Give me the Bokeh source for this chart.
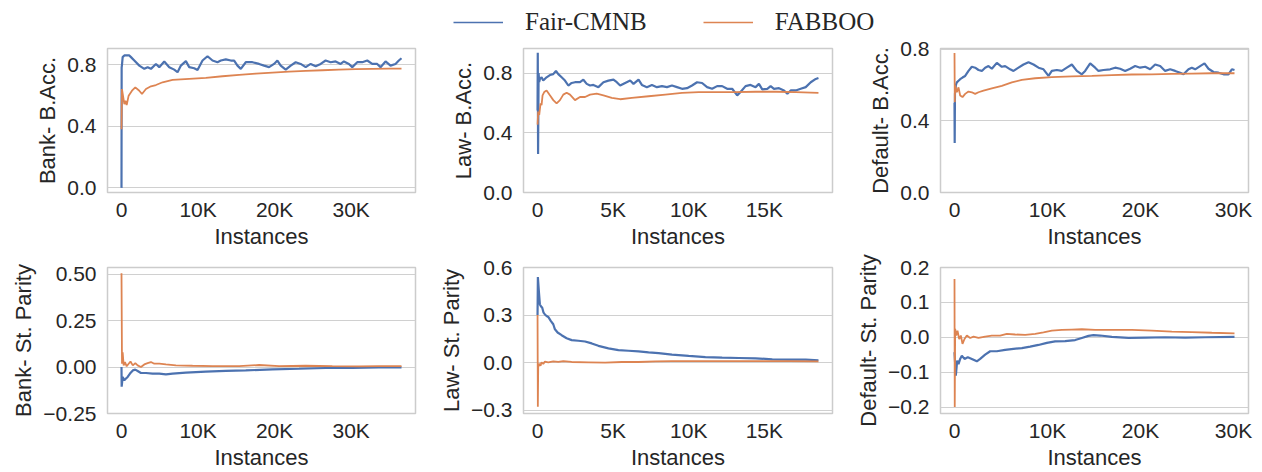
from bokeh.plotting import figure
from bokeh.layouts import column, row
from bokeh.models import Range1d, FixedTicker, CustomJSTickFormatter, Legend, LegendItem
from bokeh.embed import file_html
from bokeh.resources import INLINE

BLUE = "#4c72b0"
ORANGE = "#dd8452"
TXT = "#262626"
SANS = "Liberation Sans"
SERIF = "Liberation Serif"

series_names = ["Fair-CMNB", "FABBOO"]

# ---------------- Bank: balanced accuracy ----------------
bank_acc_x_cmnb = [0, 20, 65, 152, 370, 1021, 1239, 1673, 2325, 2977, 3412, 3846, 4498, 4933, 5585,
                   6237, 6888, 7323, 7758, 8410, 8844, 9496, 9931, 10583, 11235, 11887, 12539, 12974,
                   13626, 14278, 14712, 15147, 15582, 16234, 17103, 17972, 18624, 19275, 19927, 20362,
                   20796, 21448, 22100, 22752, 23404, 24056, 24708, 25359, 26011, 26663, 27315, 27967,
                   28619, 29053, 29705, 30140, 30792, 31444, 32096, 32748, 33399, 33834, 34486, 35138,
                   35790, 36224, 36572]
bank_acc_cmnb = [0.0, 0.78, 0.80, 0.848, 0.859, 0.859, 0.848, 0.826, 0.793, 0.772, 0.783, 0.772, 0.804,
                 0.783, 0.820, 0.783, 0.767, 0.750, 0.793, 0.822, 0.783, 0.776, 0.765, 0.826, 0.854,
                 0.826, 0.815, 0.826, 0.833, 0.826, 0.826, 0.793, 0.772, 0.815, 0.815, 0.804, 0.793,
                 0.783, 0.804, 0.826, 0.793, 0.767, 0.793, 0.815, 0.804, 0.783, 0.804, 0.789, 0.804,
                 0.826, 0.815, 0.820, 0.804, 0.820, 0.804, 0.783, 0.815, 0.815, 0.826, 0.804, 0.804,
                 0.783, 0.820, 0.793, 0.804, 0.826, 0.841]
bank_acc_x_fabboo = [0, 60, 370, 500, 674, 934, 1369, 1804, 2325, 2673, 3194, 3846, 4498, 5367, 6671,
                     8844, 11017, 13190, 15365, 17538, 19710, 21883, 24056, 26229, 28402, 30575, 32748,
                     34921, 36572]
bank_acc_fabboo = [0.38, 0.641, 0.543, 0.565, 0.537, 0.598, 0.630, 0.652, 0.630, 0.609, 0.641, 0.659,
                   0.667, 0.685, 0.700, 0.707, 0.713, 0.724, 0.733, 0.741, 0.748, 0.754, 0.759, 0.763,
                   0.767, 0.770, 0.772, 0.774, 0.774]

# ---------------- Law: balanced accuracy ----------------
law_acc_x_cmnb = [0, 15, 35, 70, 110, 155, 265, 376, 597, 818, 1040, 1217, 1371, 1593, 1814, 2035, 2256,
                  2477, 2809, 3030, 3252, 3473, 3694, 4026, 4358, 4689, 5021, 5242, 5464, 5795, 6127,
                  6348, 6680, 6901, 7233, 7565, 7897, 8229, 8560, 8892, 9224, 9556, 9888, 10219, 10551,
                  10883, 11215, 11547, 11878, 12210, 12542, 12874, 13206, 13427, 13759, 14090, 14422,
                  14643, 14865, 15196, 15418, 15639, 15971, 16302, 16524, 16745, 17077, 17409, 17741,
                  18072, 18404, 18581]
law_acc_cmnb = [0.55, 0.936, 0.258, 0.80, 0.74, 0.761, 0.772, 0.750, 0.772, 0.787, 0.793, 0.815, 0.793,
                0.772, 0.750, 0.717, 0.734, 0.739, 0.739, 0.756, 0.728, 0.717, 0.721, 0.706, 0.739,
                0.750, 0.756, 0.739, 0.717, 0.734, 0.750, 0.728, 0.756, 0.721, 0.706, 0.721, 0.706,
                0.713, 0.706, 0.717, 0.706, 0.695, 0.699, 0.717, 0.739, 0.734, 0.706, 0.695, 0.713,
                0.713, 0.695, 0.695, 0.651, 0.673, 0.713, 0.721, 0.706, 0.728, 0.691, 0.695, 0.713,
                0.695, 0.699, 0.684, 0.662, 0.684, 0.684, 0.695, 0.706, 0.739, 0.761, 0.767]
law_acc_x_fabboo = [0, 44, 111, 199, 265, 332, 442, 597, 818, 1040, 1261, 1482, 1703, 1924, 2146, 2477,
                    2809, 3141, 3473, 3915, 4358, 4911, 5464, 6238, 7344, 8450, 9556, 10662, 11768,
                    13095, 14422, 15749, 17077, 18581]
law_acc_fabboo = [0.455, 0.542, 0.520, 0.597, 0.586, 0.651, 0.673, 0.684, 0.651, 0.619, 0.597, 0.619,
                  0.656, 0.669, 0.656, 0.619, 0.640, 0.640, 0.656, 0.662, 0.651, 0.634, 0.625, 0.634,
                  0.645, 0.656, 0.667, 0.673, 0.673, 0.673, 0.675, 0.675, 0.673, 0.667]

# ---------------- Default: balanced accuracy ----------------
def_acc_x_cmnb = [0, 20, 50, 150, 251, 430, 609, 860, 1147, 1505, 1864, 2222, 2580, 2939, 3297, 3656,
                  4014, 4552, 5089, 5448, 5985, 6344, 6881, 7419, 7956, 8494, 9032, 9569, 10107, 10465,
                  11003, 11540, 12078, 12616, 13153, 13691, 14049, 14587, 15124, 15483, 16020, 16737,
                  17275, 17812, 18350, 18887, 19425, 19963, 20500, 21038, 21576, 22113, 22651, 23188,
                  23726, 24264, 24622, 25160, 25518, 25876, 26414, 26880, 27310, 27848, 28385, 28923,
                  29460, 29819, 30106]
def_acc_cmnb = [0.50, 0.276, 0.55, 0.60, 0.614, 0.623, 0.632, 0.641, 0.650, 0.678, 0.701, 0.696, 0.683,
                0.678, 0.696, 0.705, 0.690, 0.723, 0.701, 0.705, 0.687, 0.678, 0.696, 0.714, 0.727,
                0.714, 0.696, 0.687, 0.650, 0.678, 0.683, 0.678, 0.696, 0.714, 0.678, 0.659, 0.678,
                0.720, 0.696, 0.678, 0.683, 0.687, 0.696, 0.690, 0.678, 0.690, 0.705, 0.696, 0.701,
                0.687, 0.714, 0.705, 0.678, 0.687, 0.678, 0.668, 0.659, 0.687, 0.696, 0.687, 0.705,
                0.720, 0.690, 0.672, 0.668, 0.659, 0.659, 0.687, 0.683]
def_acc_x_fabboo = [0, 30, 72, 251, 430, 609, 860, 1147, 1505, 1864, 2222, 2580, 3118, 4014, 5089,
                    6165, 7240, 8673, 10465, 12616, 14766, 16917, 19067, 21218, 23368, 25518, 27668,
                    30106]
def_acc_fabboo = [0.778, 0.504, 0.595, 0.559, 0.586, 0.541, 0.532, 0.550, 0.563, 0.559, 0.550, 0.559,
                  0.568, 0.581, 0.595, 0.614, 0.628, 0.637, 0.643, 0.647, 0.650, 0.654, 0.658, 0.659,
                  0.661, 0.663, 0.665, 0.665]

# ---------------- Bank: statistical parity ----------------
bank_sp_x_cmnb = [0, 22, 152, 370, 587, 804, 1108, 1478, 1804, 2108, 2542, 3194, 4063, 4933, 5802, 6671,
                  8410, 11017, 13625, 16233, 19710, 23187, 26663, 30140, 33616, 36572]
bank_sp_cmnb = [0.0, -0.106, -0.053, -0.071, -0.062, -0.053, -0.035, -0.018, -0.014, -0.021, -0.032,
                -0.032, -0.035, -0.035, -0.039, -0.035, -0.030, -0.025, -0.021, -0.018, -0.012, -0.009,
                -0.005, -0.004, -0.002, -0.002]
bank_sp_x_fabboo = [0, 65, 152, 282, 456, 674, 934, 1173, 1478, 1804, 2108, 2542, 2977, 3412, 3846, 4281,
                    4933, 5802, 7106, 9279, 11887, 15363, 17972, 20579, 24056, 27532, 31009, 33616, 36572]
bank_sp_fabboo = [0.505, 0.018, 0.080, 0.009, 0.027, 0.004, 0.018, 0.030, 0.009, 0.021, 0.009, 0.000,
                  0.014, 0.021, 0.027, 0.018, 0.018, 0.014, 0.009, 0.007, 0.005, 0.005, 0.011, 0.005,
                  0.007, 0.005, 0.004, 0.005, 0.005]

# ---------------- Law: statistical parity ----------------
law_sp_x_cmnb = [0, 22, 88, 155, 221, 310, 398, 487, 597, 708, 885, 1040, 1150, 1327, 1593, 1924, 2256,
                 2699, 3141, 3583, 4026, 4689, 5353, 6017, 6680, 7344, 8008, 8892, 9998, 11104, 12210,
                 13316, 14422, 15528, 16634, 17741, 18581]
law_sp_cmnb = [0.30, 0.54, 0.45, 0.367, 0.356, 0.346, 0.315, 0.304, 0.294, 0.288, 0.262, 0.242, 0.21,
               0.19, 0.173, 0.154, 0.142, 0.138, 0.133, 0.121, 0.106, 0.090, 0.079, 0.075, 0.071, 0.065,
               0.060, 0.050, 0.042, 0.035, 0.031, 0.029, 0.027, 0.021, 0.019, 0.019, 0.015]
law_sp_x_fabboo = [0, 20, 44, 111, 199, 265, 376, 487, 708, 1040, 1371, 1703, 2256, 3362, 4468, 5574,
                   6680, 7786, 8892, 9998, 12210, 14422, 16634, 18581]
law_sp_fabboo = [0.30, -0.279, -0.029, -0.008, -0.019, 0.002, -0.008, 0.006, 0.002, 0.008, 0.004, 0.010,
                 0.004, 0.002, 0.0, 0.004, 0.004, 0.008, 0.010, 0.010, 0.010, 0.010, 0.010, 0.008]

# ---------------- Default: statistical parity ----------------
def_sp_x_cmnb = [0, 143, 287, 430, 609, 788, 1075, 1434, 1864, 2401, 2760, 3297, 3835, 4552, 5448, 6344,
                 7240, 8136, 9032, 9928, 10824, 11899, 12974, 13691, 14408, 14945, 15662, 16917, 18709,
                 20500, 22651, 24801, 26952, 30106]
def_sp_cmnb = [-0.043, -0.11, -0.067, -0.077, -0.062, -0.053, -0.062, -0.057, -0.062, -0.069, -0.062,
               -0.050, -0.040, -0.040, -0.036, -0.033, -0.031, -0.027, -0.022, -0.016, -0.012, -0.011,
               -0.008, -0.002, 0.004, 0.006, 0.005, 0.001, -0.002, -0.001, 0.0, -0.001, 0.0, 0.001]
def_sp_x_fabboo = [0, 25, 72, 179, 323, 502, 681, 860, 1075, 1326, 1684, 2043, 2580, 3297, 4014, 4910,
                   5627, 6523, 7598, 8673, 9569, 10465, 11540, 12616, 13691, 15124, 16917, 19067, 21218,
                   23368, 25518, 27668, 30106]
def_sp_fabboo = [0.167, -0.20, 0.024, 0.005, 0.019, -0.005, 0.005, -0.019, -0.005, 0.005, -0.002, 0.002,
                 -0.002, 0.002, 0.005, 0.005, 0.010, 0.008, 0.007, 0.010, 0.014, 0.019, 0.021, 0.022,
                 0.023, 0.021, 0.021, 0.021, 0.019, 0.016, 0.015, 0.013, 0.011]

# tick values
acc_ticks = [0.0, 0.4, 0.8]
bank_sp_ticks = [-0.25, 0.0, 0.25, 0.5]
law_sp_ticks = [-0.3, 0.0, 0.3, 0.6]
def_sp_ticks = [-0.2, -0.1, 0.0, 0.1, 0.2]
bank_x_ticks = [0, 10000, 20000, 30000]
law_x_ticks = [0, 5000, 10000, 15000]
def_x_ticks = [0, 10000, 20000, 30000]


def panel(xb, yb, xo, yo, ylabel, yr, yticks, ydec, xticks, w, bl, br, h, bt, bb, xs, xls):
    xmax = max(max(xb), max(xo))
    p = figure(width=w, height=h, min_border_left=bl, min_border_right=br,
               min_border_top=bt, min_border_bottom=bb,
               x_range=Range1d(-0.05 * xmax, 1.05 * xmax), y_range=Range1d(yr[0], yr[1]),
               output_backend="svg", toolbar_location=None)
    p.background_fill_color = "white"
    p.border_fill_color = "white"
    p.outline_line_color = "#cccccc"
    p.outline_line_width = 1.5
    p.xgrid.visible = False
    p.ygrid.grid_line_color = "#d0d0d0"
    p.ygrid.grid_line_width = 1.2
    p.line(xb, yb, line_color=BLUE, line_width=2.2)
    p.line(xo, yo, line_color=ORANGE, line_width=1.8)
    p.xaxis.ticker = FixedTicker(ticks=xticks)
    p.yaxis.ticker = FixedTicker(ticks=yticks)
    p.xaxis.formatter = CustomJSTickFormatter(
        code="return tick == 0 ? '0' : Math.round(tick / 1000) + 'K';")
    p.yaxis.formatter = CustomJSTickFormatter(
        args=dict(d=ydec),
        code="const s = Math.abs(tick).toFixed(d); return (tick < -1e-9 ? '\u2212' : '') + s;")
    for ax in (p.xaxis[0], p.yaxis[0]):
        ax.axis_line_color = None
        ax.major_tick_line_color = None
        ax.minor_tick_line_color = None
        ax.major_tick_out = 0
        ax.major_tick_in = 0
        ax.major_label_text_font = SANS
        ax.major_label_text_font_size = "21px"
        ax.major_label_text_color = TXT
        ax.major_label_text_line_height = 1.0
        ax.axis_label_text_font = SANS
        ax.axis_label_text_font_size = "22px"
        ax.axis_label_text_font_style = "normal"
        ax.axis_label_text_color = TXT
        ax.axis_label_text_line_height = 1.0
    p.xaxis.axis_label = "Instances"
    p.yaxis.axis_label = ylabel
    p.xaxis.major_label_standoff = xs
    p.xaxis.axis_label_standoff = xls
    p.yaxis.major_label_standoff = 11
    p.yaxis.axis_label_standoff = 4
    return p


# legend strip on top (page 0..36)
lg = figure(width=1262, height=36, min_border_left=0, min_border_right=0, min_border_top=0,
            min_border_bottom=0, x_range=Range1d(0, 1), y_range=Range1d(0, 1),
            x_axis_location=None, y_axis_location=None, output_backend="svg", toolbar_location=None)
lg.outline_line_color = None
lg.grid.visible = False
nan = float("nan")
lb = lg.line(x=[nan], y=[nan], line_color=BLUE, line_width=1.6)
lo = lg.line(x=[nan], y=[nan], line_color=ORANGE, line_width=1.6)
legend = Legend(items=[LegendItem(label=series_names[0], renderers=[lb]),
                       LegendItem(label=series_names[1], renderers=[lo])],
                orientation="horizontal", location=(453, 0))
legend.label_text_font = SERIF
legend.label_text_font_size = "25px"
legend.label_text_color = TXT
legend.glyph_width = 50
legend.glyph_height = 28
legend.label_height = 28
legend.label_standoff = 22
legend.spacing = 56
legend.padding = 0
legend.margin = 0
legend.border_line_color = None
legend.background_fill_alpha = 0
lg.add_layout(legend)

# row 1: page 36..251 (frame 48..193); row 2: page 251..472 (frame 267..413)
H1, BT1, BB1 = 215, 12, 58
H2, BT2, BB2 = 221, 16, 59

f1 = panel(bank_acc_x_cmnb, bank_acc_cmnb, bank_acc_x_fabboo, bank_acc_fabboo, "Bank- B.Acc.",
           (-0.03, 0.904), acc_ticks, 1, bank_x_ticks, 430, 107, 15, H1, BT1, BB1, 5, 0)
f2 = panel(law_acc_x_cmnb, law_acc_cmnb, law_acc_x_fabboo, law_acc_fabboo, "Law- B.Acc.",
           (0.0, 0.965), acc_ticks, 1, law_x_ticks, 416, 93, 14, H1, BT1, BB1, 5, 0)
f3 = panel(def_acc_x_cmnb, def_acc_cmnb, def_acc_x_fabboo, def_acc_fabboo, "Default- B.Acc.",
           (0.0, 0.803), acc_ticks, 1, def_x_ticks, 416, 94, 14, H1, BT1, BB1, 5, 0)
f4 = panel(bank_sp_x_cmnb, bank_sp_cmnb, bank_sp_x_fabboo, bank_sp_fabboo, "Bank- St. Parity",
           (-0.25, 0.536), bank_sp_ticks, 2, bank_x_ticks, 430, 107, 15, H2, BT2, BB2, 5, 0)
f5 = panel(law_sp_x_cmnb, law_sp_cmnb, law_sp_x_fabboo, law_sp_fabboo, "Law- St. Parity",
           (-0.321, 0.6), law_sp_ticks, 1, law_x_ticks, 416, 93, 14, H2, BT2, BB2, 5, 0)
f6 = panel(def_sp_x_cmnb, def_sp_cmnb, def_sp_x_fabboo, def_sp_fabboo, "Default- St. Parity",
           (-0.2185, 0.2), def_sp_ticks, 1, def_x_ticks, 416, 94, 14, H2, BT2, BB2, 5, 0)

layout = column(lg, row(f1, f2, f3), row(f4, f5, f6))

with open("out.html", "w") as fh:
    fh.write(file_html(layout, INLINE))
